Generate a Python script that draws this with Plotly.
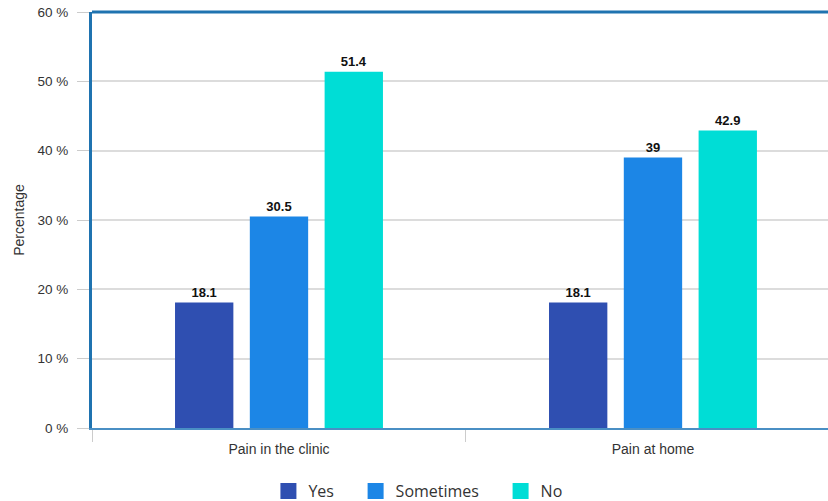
import plotly.graph_objects as go

categories = ["Pain in the clinic", "Pain at home"]
series_names = ["Yes", "Sometimes", "No"]
yes_vals = [18.1, 18.1]
sometimes_vals = [30.5, 39]
no_vals = [51.4, 42.9]
colors = ["#2f4fb1", "#1c86e6", "#00ddd6"]

fig = go.Figure()
for name, vals, col in zip(series_names, [yes_vals, sometimes_vals, no_vals], colors):
    fig.add_trace(go.Bar(
        x=categories, y=vals, name=name, marker=dict(color=col, line=dict(width=0)),
        text=[f"{v:g}" for v in vals], textposition="outside", cliponaxis=False,
        textfont=dict(family="Liberation Sans, Arial", size=13, color="#111"),
        texttemplate="<b>%{text}</b>", showlegend=False,
    ))
# legend-only entries with larger square swatches
pad = "\u00a0" * 4
for name, col in zip(series_names, colors):
    fig.add_trace(go.Scatter(
        x=[None], y=[None], mode="markers", name=name + pad,
        marker=dict(symbol="square", size=21, color=col),
    ))

fig.update_layout(
    width=828, height=501,
    margin=dict(l=92, r=0, t=12, b=73, autoexpand=False),
    paper_bgcolor="white", plot_bgcolor="white",
    barmode="group", bargap=0.4, bargroupgap=0.22,
    font=dict(family="Liberation Sans, Arial", color="#333"),
    legend=dict(orientation="h", xref="container", x=0.515, xanchor="center",
                yref="container", y=0.02, yanchor="middle",
                font=dict(family="Open Sans", size=16, color="#333"), traceorder="normal",
                itemwidth=30, tracegroupgap=0),
    showlegend=True,
)
fig.update_xaxes(
    range=[-0.5, 1.468], showline=True, linecolor="#4a8fc4", linewidth=1.5,
    ticks="outside", tickson="boundaries", ticklen=12, tickcolor="#cccccc",
    tickfont=dict(size=14, color="#333"), showgrid=False, ticklabelstandoff=7,
    automargin=False,
)
fig.update_yaxes(
    range=[0, 60], dtick=10, ticksuffix=" %", showline=True, linecolor="#1f73b0", linewidth=3,
    ticks="outside", ticklen=12, tickcolor="#cccccc", gridcolor="#dcdcdc", gridwidth=1.5,
    tickfont=dict(size=13.5, color="#333"), zeroline=False, ticklabelstandoff=6,
    title=dict(text="Percentage", font=dict(size=14, color="#333"), standoff=10),
    automargin=False,
)
fig.add_shape(type="line", xref="paper", yref="paper", x0=0, x1=1, y0=1, y1=1,
              line=dict(color="#1f73b0", width=3))

fig.write_html("out.html")
